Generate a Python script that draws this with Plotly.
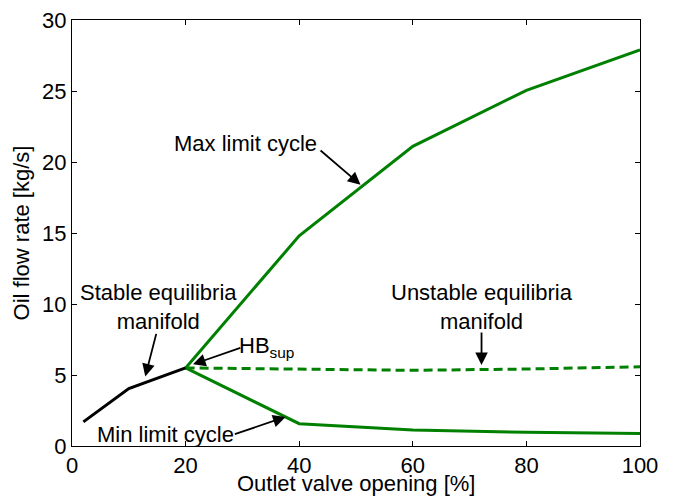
import plotly.graph_objects as go

stable_x = [2, 10, 20]
stable_y = [1.7, 4.05, 5.5]
max_x = [20, 40, 60, 80, 100]
max_y = [5.5, 14.8, 21.1, 25.05, 27.9]
min_x = [20, 40, 60, 80, 100]
min_y = [5.5, 1.57, 1.13, 0.96, 0.88]
unst_x = [20, 40, 60, 80, 100]
unst_y = [5.5, 5.42, 5.33, 5.42, 5.58]

x_ticks = [0, 20, 40, 60, 80, 100]
y_ticks = [0, 5, 10, 15, 20, 25, 30]

GREEN = "#008000"
FONT = "Liberation Sans, Arial, sans-serif"
FS = 22

fig = go.Figure()
fig.add_trace(go.Scatter(x=max_x, y=max_y, mode="lines", line=dict(color=GREEN, width=3)))
fig.add_trace(go.Scatter(x=min_x, y=min_y, mode="lines", line=dict(color=GREEN, width=3)))
fig.add_trace(go.Scatter(x=unst_x, y=unst_y, mode="lines", line=dict(color=GREEN, width=3, dash="9px,5px")))
fig.add_trace(go.Scatter(x=stable_x, y=stable_y, mode="lines", line=dict(color="black", width=3)))

anns = []
def text(x, y, t):
    anns.append(dict(x=x, y=y, xref="x", yref="y", text=t, showarrow=False,
                     font=dict(size=FS, color="black", family=FONT), align="center"))
def arrow(x0, y0, x1, y1):
    anns.append(dict(x=x1, y=y1, ax=x0, ay=y0, xref="x", yref="y", axref="x", ayref="y",
                     text="", showarrow=True, arrowhead=2, arrowsize=1.4, arrowwidth=1.8,
                     arrowcolor="black"))

text(30.5, 21.3, "Max limit cycle")
arrow(43.5, 20.9, 50.8, 18.4)
text(15.2, 9.8, "Stable equilibria<br>manifold")
arrow(14.9, 8.0, 12.9, 4.9)
text(34.2, 6.95, "HB<sub>sup</sub>")
arrow(29.9, 6.95, 21.3, 5.75)
text(72.1, 9.8, "Unstable equilibria<br>manifold")
arrow(72.1, 8.1, 72.1, 5.7)
text(16.5, 0.8, "Min limit cycle")
arrow(28.4, 0.8, 37.6, 2.05)
# x-axis title as annotation, anchored to the bottom of the figure
anns.append(dict(x=0.5, y=0, xref="paper", yref="paper", yshift=-52, yanchor="bottom",
                 text="Outlet valve opening [%]", showarrow=False,
                 font=dict(size=FS, color="black", family=FONT)))
fig.update_layout(annotations=anns)

axis_common = dict(showline=True, linecolor="black", linewidth=1, mirror="ticks",
                   ticks="inside", ticklen=5, tickcolor="black", showgrid=False, zeroline=False,
                   automargin=False,
                   tickfont=dict(size=FS, color="black", family=FONT))
fig.update_xaxes(range=[0, 100], tickvals=x_ticks, **axis_common)
fig.update_yaxes(range=[0, 30], tickvals=y_ticks, **axis_common,
                 title=dict(text="Oil flow rate [kg/s]", font=dict(size=FS, color="black", family=FONT), standoff=6))

fig.update_layout(width=673, height=497, margin=dict(l=72, r=33, t=20, b=51),
                  plot_bgcolor="white", paper_bgcolor="white", showlegend=False)
fig.write_html("out.html", config={"displayModeBar": False},
               post_script="document.body.style.margin='0';")
